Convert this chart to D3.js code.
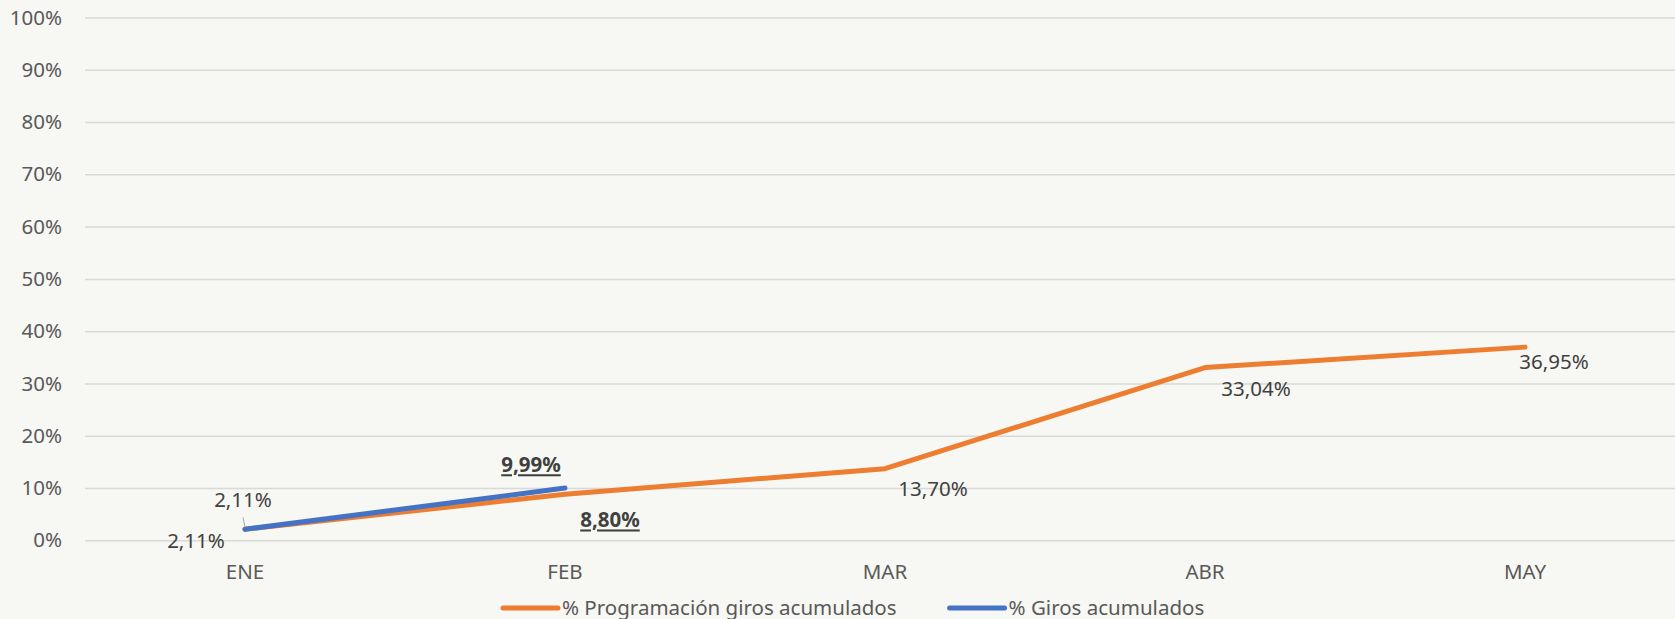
<!DOCTYPE html>
<html>
<head>
<meta charset="utf-8">
<script src="https://cdn.jsdelivr.net/npm/d3@7"></script>
<style>
  html, body { margin: 0; padding: 0; background: #f7f7f3; }
  #container { width: 1675px; height: 619px; overflow: hidden; }
  text { font-family: "Noto Sans", "Open Sans", sans-serif; }
</style>
</head>
<body>
<div id="container"></div>
<script>
// data
var months = ["ENE", "FEB", "MAR", "ABR", "MAY"];
var programacion = [0.0211, 0.0880, 0.1370, 0.3304, 0.3695];
var giros = [0.0211, 0.0999];
var yTicks = [0, 0.1, 0.2, 0.3, 0.4, 0.5, 0.6, 0.7, 0.8, 0.9, 1];
var seriesNames = ["% Programación giros acumulados", "% Giros acumulados"];

var width = 1675, height = 619;
var plotLeft = 85, plotTop = 17.5, plotBottom = 540.3, plotW = 1600;
var orange = "#ed7d31", blue = "#4472c4";
var fontSize = "20.5px";

// label offsets from the point (dx, dy), by month index
var progLabelOff = [[-49, 12], [45, 26], [48, 20], [51, 21], [29, 15]];
var girosLabelOff = [[-2, -29], [-34, -23]];
var boldLabels = { prog: [1], giros: [1] };

var es = d3.formatLocale({ decimal: ",", thousands: ".", grouping: [3], currency: ["", "€"] });
var fmtPct = es.format(".2%");
var fmtTick = es.format(".0%");

var svg = d3.select("#container").append("svg")
    .attr("width", width)
    .attr("height", height);

var x = d3.scaleBand()
    .domain(months)
    .range([plotLeft, plotLeft + plotW])
    .padding(0);
var cx = function(m) { return x(m) + x.bandwidth() / 2; };

var y = d3.scaleLinear()
    .domain([0, 1])
    .range([plotBottom, plotTop]);

// y axis with gridlines
var yAxis = svg.append("g")
    .attr("transform", "translate(" + plotLeft + ",0)")
    .call(d3.axisLeft(y).tickValues(yTicks).tickFormat(fmtTick)
      .tickSizeInner(-plotW).tickSizeOuter(0).tickPadding(23));
yAxis.select(".domain").remove();
yAxis.selectAll(".tick line").attr("stroke", "#d9d9d9").attr("stroke-width", 1.5);
yAxis.selectAll(".tick text")
    .attr("fill", "#595959")
    .style("font-size", fontSize)
    .style("font-family", "'Noto Sans', sans-serif");

// x axis labels
var xAxis = svg.append("g")
    .attr("transform", "translate(0," + plotBottom + ")")
    .call(d3.axisBottom(x).tickSize(0).tickPadding(0));
xAxis.select(".domain").remove();
xAxis.selectAll(".tick text")
    .attr("y", 31.4)
    .attr("dy", "0.35em")
    .attr("fill", "#595959")
    .style("font-size", fontSize)
    .style("font-family", "'Noto Sans', sans-serif");

var line = d3.line()
    .x(function(d, i) { return cx(months[i]); })
    .y(function(d) { return y(d); });

svg.append("path")
    .datum(programacion)
    .attr("fill", "none")
    .attr("stroke", orange)
    .attr("stroke-width", 5)
    .attr("stroke-linecap", "round")
    .attr("stroke-linejoin", "round")
    .attr("d", line);

svg.append("path")
    .datum(giros)
    .attr("fill", "none")
    .attr("stroke", blue)
    .attr("stroke-width", 5)
    .attr("stroke-linecap", "round")
    .attr("stroke-linejoin", "round")
    .attr("d", line);

// leader line for the ENE giros label
svg.append("line")
    .attr("x1", cx(months[0]) - 2).attr("y1", y(giros[0]) - 12)
    .attr("x2", cx(months[0])).attr("y2", y(giros[0]) - 2)
    .attr("stroke", "#a6a6a6").attr("stroke-width", 1);

function addLabels(values, offs, bold, key) {
  svg.append("g").attr("class", "labels-" + key)
    .selectAll("text")
    .data(values)
    .enter().append("text")
      .attr("x", function(d, i) { return cx(months[i]) + offs[i][0]; })
      .attr("y", function(d, i) { return y(d) + offs[i][1]; })
      .attr("dy", "0.35em")
      .attr("text-anchor", "middle")
      .attr("fill", "#404040")
      .style("font-size", fontSize)
      .style("font-weight", function(d, i) { return bold.indexOf(i) >= 0 ? "bold" : "normal"; })
      .style("text-decoration", function(d, i) { return bold.indexOf(i) >= 0 ? "underline" : "none"; })
      .text(function(d) { return fmtPct(d); });
}
addLabels(programacion, progLabelOff, boldLabels.prog, "prog");
addLabels(giros, girosLabelOff, boldLabels.giros, "giros");

// legend
var legendY = 608;
var legend = svg.append("g");
var lx = 503;
[orange, blue].forEach(function(c, i) {
  legend.append("line")
    .attr("x1", lx).attr("x2", lx + 55)
    .attr("y1", legendY).attr("y2", legendY)
    .attr("stroke", c).attr("stroke-width", 5)
    .attr("stroke-linecap", "round");
  var t = legend.append("text")
    .attr("x", lx + 59)
    .attr("y", legendY)
    .attr("dy", "0.35em")
    .attr("fill", "#595959")
    .style("font-size", fontSize)
    .text(seriesNames[i]);
  lx = lx + 59 + t.node().getComputedTextLength() + 53;
});
</script>
</body>
</html>
